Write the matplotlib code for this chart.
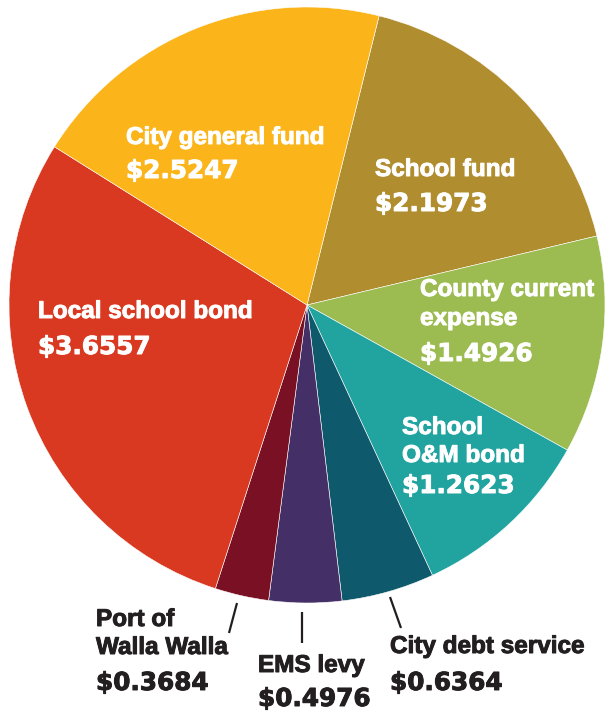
import matplotlib
matplotlib.use("Agg")
import matplotlib.pyplot as plt
import matplotlib.patheffects as pe

# property tax levy per $1,000 assessed value, clockwise from the top
categories = ["School fund", "County current expense", "School O&M bond",
              "City debt service", "EMS levy", "Port of Walla Walla",
              "Local school bond", "City general fund"]
values = [2.1973, 1.4926, 1.2623, 0.6364, 0.4976, 0.3684, 3.6557, 2.5247]
colors = ["#B08D2E", "#9CBB51", "#21A39F", "#0E5A6C", "#442F66",
          "#7A1024", "#D93821", "#FBB51A"]

# how each name is broken into lines on the chart
name_lines = {
    "School fund": ["School fund"],
    "County current expense": ["County current", "expense"],
    "School O&M bond": ["School", "O&M bond"],
    "City debt service": ["City debt service"],
    "EMS levy": ["EMS levy"],
    "Port of Walla Walla": ["Port of", "Walla Walla"],
    "Local school bond": ["Local school bond"],
    "City general fund": ["City general fund"],
}

# label layout in pixels: left x, baselines of name lines, baseline of amount
layout = {
    "School fund": (375, [176], 211),
    "County current expense": (420, [296, 325], 361),
    "School O&M bond": (402, [434, 462], 493),
    "City debt service": (390, [653], 690),
    "EMS levy": (258, [672], 706),
    "Port of Walla Walla": (96, [626, 654], 690),
    "Local school bond": (38, [318], 354),
    "City general fund": (126, [144], 178),
}
outside = ["City debt service", "EMS levy", "Port of Walla Walla"]
leaders = {
    "Port of Walla Walla": ((237, 229), (603, 633)),
    "EMS levy": ((302, 302), (612, 643)),
    "City debt service": ((390, 401), (597, 628)),
}

W, H = 605, 712
fig = plt.figure(figsize=(W / 100, H / 100), dpi=100)
ax = fig.add_axes([0, 0, 1, 1])

# y axis is flipped, so counterclock=True draws clockwise on screen
ax.pie(values, colors=colors, center=(307, 305), radius=298,
       startangle=-76.0, counterclock=True, frame=True,
       wedgeprops=dict(edgecolor="white", linewidth=0.4))
ax.set_xlim(0, W)
ax.set_ylim(H, 0)  # pixel coords, y down
ax.set_aspect("equal")
ax.axis("off")

dark = "#231F20"
for cat, val in zip(categories, values):
    x, ys, yv = layout[cat]
    col = dark if cat in outside else "white"
    # thin stroke in the text colour to get a heavier face
    heavy = [pe.withStroke(linewidth=0.7, foreground=col)]
    for line, y in zip(name_lines[cat], ys):
        ax.text(x, y, line, color=col, fontsize=17.5, fontweight="bold",
                family="Liberation Sans", va="baseline", ha="left",
                path_effects=heavy)
    ax.text(x, yv, f"${val:.4f}", color=col, fontsize=17.8,
            fontweight="bold", family="DejaVu Sans", va="baseline", ha="left",
            path_effects=heavy)

for cat, (xs, ys) in leaders.items():
    ax.plot(xs, ys, color=dark, lw=1.6, solid_capstyle="butt")

fig.savefig("out.png", dpi=100)
